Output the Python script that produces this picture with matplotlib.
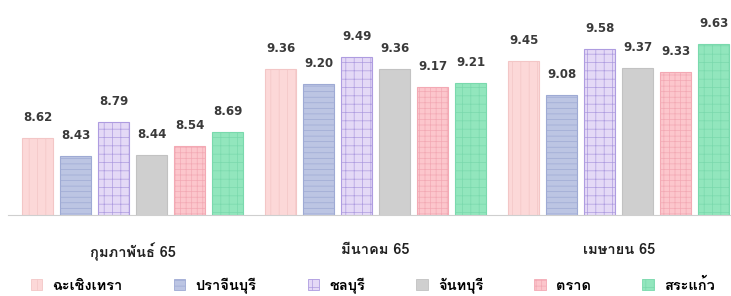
import numpy as np
import matplotlib as mpl
import matplotlib.pyplot as plt
from matplotlib import font_manager
from matplotlib.ft2font import FT2Font
from matplotlib.patches import Patch

months = ['กุมภาพันธ์ 65', 'มีนาคม 65', 'เมษายน 65']
provinces = ['ฉะเชิงเทรา', 'ปราจีนบุรี', 'ชลบุรี', 'จันทบุรี', 'ตราด', 'สระแก้ว']
values = {
    'ฉะเชิงเทรา': [8.62, 9.36, 9.45],
    'ปราจีนบุรี': [8.43, 9.20, 9.08],
    'ชลบุรี':     [8.79, 9.49, 9.58],
    'จันทบุรี':   [8.44, 9.36, 9.37],
    'ตราด':       [8.54, 9.17, 9.33],
    'สระแก้ว':    [8.69, 9.21, 9.63],
}

# --- pick a font that has Thai glyphs
thai = None
for f in font_manager.fontManager.ttflist:
    try:
        if 0x0E01 in FT2Font(f.fname).get_charmap():
            thai = f.name
            break
    except Exception:
        pass
plt.rcParams['font.family'] = [thai, 'DejaVu Sans'] if thai else ['DejaVu Sans']

faces   = ['#fcd8d8', '#bcc5e3', '#e4d9f6', '#cfcfcf', '#fcc6cc', '#92e6bd']
edges   = ['#f3c6c6', '#9eaad4', '#ae9ce0', '#c2c2c2', '#f3a9b4', '#7ad9ad']
hatches = ['||', '---', '++', '', '+++', '++']
plt.rcParams['hatch.linewidth'] = 0.5

fig = plt.figure(figsize=(7.31, 2.96), dpi=100)
ax = fig.add_axes((8/731, 81/296, 723/731, 215/296))

gpitch = 6.4
x = np.arange(len(months)) * gpitch
for i, p in enumerate(provinces):
    bars = ax.bar(x + i, values[p], width=0.82, color=faces[i],
                  edgecolor=edges[i], hatch=hatches[i], linewidth=0.8)
    for b, v in zip(bars, values[p]):
        ax.text(b.get_x() + b.get_width()/2, v + 0.15, f'{v:.2f}',
                ha='center', va='bottom', fontsize=8.5, fontweight='bold',
                color='#3a3a3a', family='DejaVu Sans')

ax.set_ylim(7.8, 10.1)
ax.set_xlim(-0.776, 18.25)
for s in ['top', 'right', 'left']:
    ax.spines[s].set_visible(False)
ax.spines['bottom'].set_color('#cfcfcf')
ax.set_yticks([])
ax.set_xticks(x + 2.5)
ax.set_xticklabels(months, fontsize=10.5, color='#222222', fontweight='bold')
ax.tick_params(axis='x', length=0, pad=20)

handles = [Patch(facecolor=faces[i], edgecolor=edges[i], hatch=hatches[i], linewidth=0.6)
           for i in range(len(provinces))]
fig.legend(handles, provinces, loc='center', bbox_to_anchor=(0.51, 0.035), ncol=6,
           frameon=False, handlelength=0.8, handleheight=0.8,
           columnspacing=3.5, handletextpad=0.7, prop={'weight': 'bold', 'size': 10.5})

fig.savefig('out.png', dpi=100)
